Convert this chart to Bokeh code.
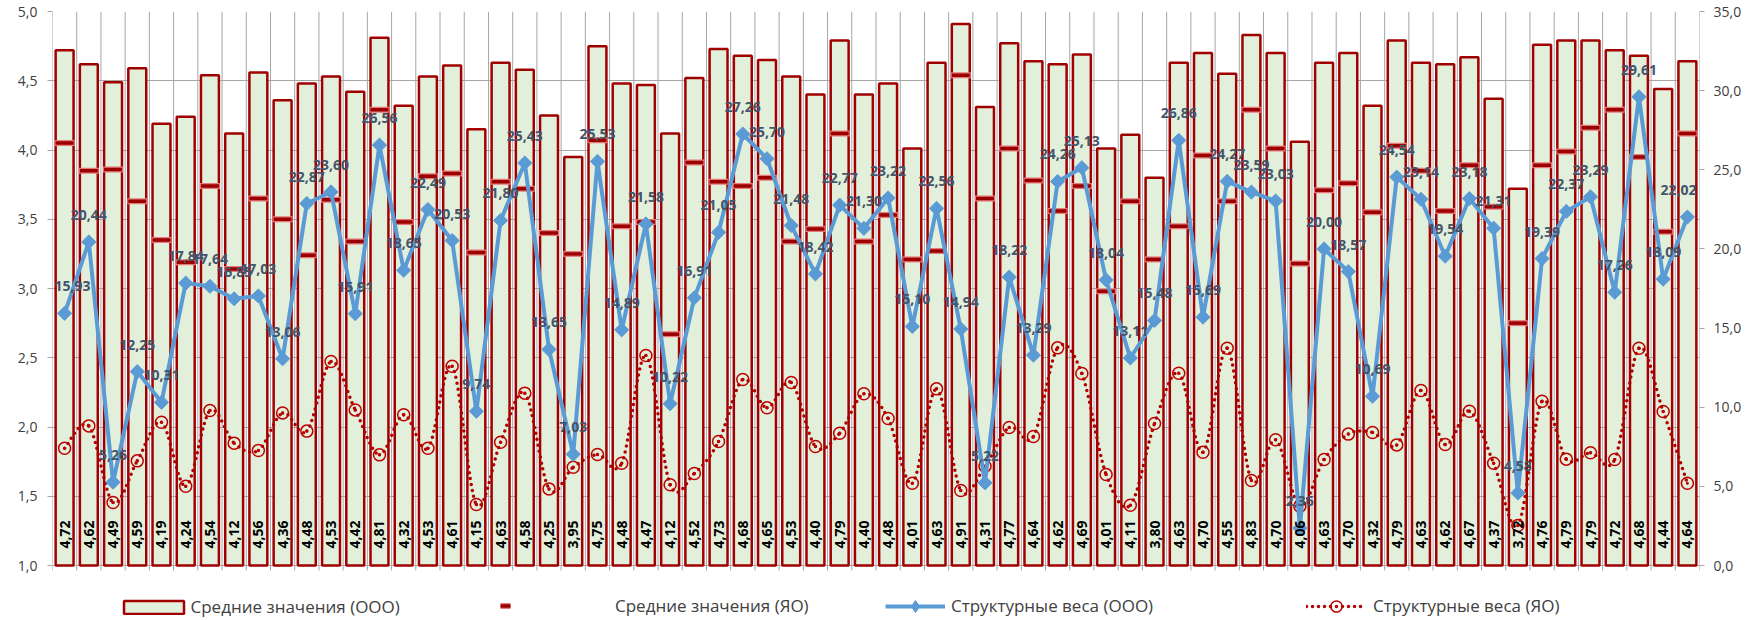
import math
from bokeh.plotting import figure
from bokeh.models import (Range1d, LinearAxis, FixedTicker, CustomJSTickFormatter,
                          Legend, LegendItem, ColumnDataSource, LabelSet)
from bokeh.core.properties import value
from bokeh.embed import file_html
from bokeh.resources import INLINE

# ---------------- data ----------------
nums = list(range(1, 69))

mean_ooo = [4.72, 4.62, 4.49, 4.59, 4.19, 4.24, 4.54, 4.12, 4.56, 4.36,
            4.48, 4.53, 4.42, 4.81, 4.32, 4.53, 4.61, 4.15, 4.63, 4.58,
            4.25, 3.95, 4.75, 4.48, 4.47, 4.12, 4.52, 4.73, 4.68, 4.65,
            4.53, 4.40, 4.79, 4.40, 4.48, 4.01, 4.63, 4.91, 4.31, 4.77,
            4.64, 4.62, 4.69, 4.01, 4.11, 3.80, 4.63, 4.70, 4.55, 4.83,
            4.70, 4.06, 4.63, 4.70, 4.32, 4.79, 4.63, 4.62, 4.67, 4.37,
            3.72, 4.76, 4.79, 4.79, 4.72, 4.68, 4.44, 4.64]

mean_yao = [4.05, 3.85, 3.86, 3.63, 3.35, 3.19, 3.74, 3.14, 3.65, 3.50,
            3.24, 3.64, 3.34, 4.29, 3.48, 3.81, 3.83, 3.26, 3.77, 3.72,
            3.40, 3.25, 4.07, 3.45, 3.48, 2.67, 3.91, 3.77, 3.74, 3.80,
            3.34, 3.43, 4.12, 3.34, 3.53, 3.21, 3.27, 4.54, 3.65, 4.01,
            3.78, 3.56, 3.74, 2.98, 3.63, 3.21, 3.45, 3.96, 3.63, 4.29,
            4.01, 3.18, 3.71, 3.76, 3.55, 4.03, 3.85, 3.56, 3.89, 3.59,
            2.75, 3.89, 3.99, 4.16, 4.29, 3.95, 3.41, 4.12]

w_ooo = [15.93, 20.44, 5.26, 12.25, 10.31, 17.84, 17.64, 16.85, 17.03, 13.06,
         22.87, 23.60, 15.91, 26.56, 18.65, 22.49, 20.53, 9.74, 21.80, 25.43,
         13.65, 7.03, 25.53, 14.89, 21.58, 10.22, 16.91, 21.05, 27.26, 25.70,
         21.48, 18.42, 22.77, 21.30, 23.22, 15.10, 22.56, 14.94, 5.22, 18.22,
         13.29, 24.26, 25.13, 18.04, 13.11, 15.48, 26.86, 15.69, 24.27, 23.59,
         23.03, 2.36, 20.00, 18.57, 10.69, 24.54, 23.14, 19.54, 23.18, 21.31,
         4.58, 19.39, 22.37, 23.29, 17.26, 29.61, 18.09, 22.02]

w_yao = [7.41, 8.82, 3.98, 6.61, 9.05, 5.01, 9.79, 7.73, 7.27, 9.64,
         8.49, 12.89, 9.83, 6.99, 9.52, 7.41, 12.59, 3.85, 7.79, 10.89,
         4.84, 6.21, 7.01, 6.46, 13.27, 5.10, 5.81, 7.83, 11.75, 9.96,
         11.56, 7.52, 8.36, 10.85, 9.29, 5.20, 11.16, 4.74, 6.27, 8.72,
         8.15, 13.75, 12.13, 5.75, 3.81, 8.97, 12.15, 7.16, 13.73, 5.37,
         7.94, 3.75, 6.70, 8.30, 8.40, 7.62, 11.06, 7.64, 9.75, 6.46,
         2.53, 10.38, 6.72, 7.12, 6.70, 13.73, 9.73, 5.20]

left_ticks = [1.0, 1.5, 2.0, 2.5, 3.0, 3.5, 4.0, 4.5, 5.0]
right_ticks = [0, 5, 10, 15, 20, 25, 30, 35]

series_names = ["Средние значения (ООО)", "Средние значения (ЯО)",
                "Структурные веса (ООО)", "Структурные веса (ЯО)"]

def comma(v):
    return f"{v:.2f}".replace(".", ",")

# ---------------- layout constants (pixels) ----------------
FONT = "Open Sans"
GRID = "#A6A6A6"
W, H = 1749, 620
B_LEFT, B_RIGHT, B_TOP = 52, 50, 11
AXIS_PX = 554            # height of the 1,0 .. 5,0 band
FRAME_H = H - B_TOP      # frame reaches canvas bottom (legend lives there)
EXTRA_PX = FRAME_H - AXIS_PX

l0, l1 = left_ticks[0], left_ticks[-1]
r0, r1 = right_ticks[0], right_ticks[-1]
l_bottom = l0 - (l1 - l0) * EXTRA_PX / AXIS_PX
r_bottom = r0 - (r1 - r0) * EXTRA_PX / AXIS_PX
tick_len = 5 * (l1 - l0) / AXIS_PX

# ---------------- figure ----------------
p = figure(width=W, height=H, output_backend="svg", toolbar_location=None,
           x_range=Range1d(0.5, 68.5), y_range=Range1d(l_bottom, l1),
           x_axis_location=None,
           min_border_left=B_LEFT, min_border_right=B_RIGHT,
           min_border_top=B_TOP, min_border_bottom=0)
p.extra_y_ranges = {"w": Range1d(r_bottom, r1)}
p.outline_line_color = None
p.background_fill_color = "white"
p.border_fill_color = "white"
p.xgrid.visible = False

fmt = CustomJSTickFormatter(code="return tick.toFixed(1).replace('.', ',');")

# left axis
ya = p.yaxis[0]
ya.ticker = FixedTicker(ticks=left_ticks)
ya.formatter = fmt
ya.major_label_text_font = FONT
ya.major_label_text_font_size = "14px"
ya.major_label_text_color = "#404040"
ya.major_tick_out = 5
ya.major_tick_in = 0
ya.major_label_standoff = 10
ya.minor_tick_line_color = None
ya.axis_line_color = None
ya.major_tick_line_color = GRID
p.ygrid.ticker = FixedTicker(ticks=left_ticks)
p.ygrid.grid_line_color = GRID

# right axis
ra = LinearAxis(y_range_name="w", ticker=FixedTicker(ticks=right_ticks), formatter=fmt)
ra.major_label_text_font = FONT
ra.major_label_text_font_size = "14px"
ra.major_label_text_color = "#404040"
ra.major_tick_out = 5
ra.major_tick_in = 0
ra.major_label_standoff = 9
ra.minor_tick_line_color = None
ra.axis_line_color = None
ra.major_tick_line_color = GRID
p.add_layout(ra, "right")

# category boundaries: vertical grid lines + bottom ticks + side axis lines
bounds = [n - 0.5 for n in nums] + [nums[-1] + 0.5]
p.segment(x0=bounds, y0=[l0 - tick_len] * len(bounds), x1=bounds, y1=[l1] * len(bounds),
          line_color=GRID, line_width=1)

# ---------------- glyphs ----------------
lab_dx = [0] * len(nums)
lab_dx[0] = 8      # keep first / last value labels inside the plot frame
lab_dx[-1] = -9

src = ColumnDataSource(dict(
    x=nums, ooo=mean_ooo, yao=mean_yao, wo=w_ooo, wy=w_yao,
    base=[l0] * len(nums),
    lab_ooo=[comma(v) for v in mean_ooo],
    lab_w=[comma(v) for v in w_ooo],
    dx=lab_dx,
))

bars = p.vbar(x="x", top="ooo", bottom="base", width=0.74, source=src,
              fill_color="#E2EFDA", line_color="#A00000", line_width=2.5)

d1 = p.scatter(x="x", y="yao", source=src, marker="dash", size=20,
               line_color="#E87878", line_width=6)
d2 = p.scatter(x="x", y="yao", source=src, marker="dash", size=18,
               line_color="#9A0000", line_width=3.5)

# smoothed dotted line (Bezier segments through the data points)
n = len(nums)
bx0, by0, bx1, by1, cx0, cy0, cx1, cy1 = [], [], [], [], [], [], [], []
for i in range(n - 1):
    i0 = max(i - 1, 0)
    i3 = min(i + 2, n - 1)
    bx0.append(nums[i]); by0.append(w_yao[i])
    bx1.append(nums[i + 1]); by1.append(w_yao[i + 1])
    cx0.append(nums[i] + (nums[i + 1] - nums[i0]) / 6.0)
    cy0.append(w_yao[i] + (w_yao[i + 1] - w_yao[i0]) / 6.0)
    cx1.append(nums[i + 1] - (nums[i3] - nums[i]) / 6.0)
    cy1.append(w_yao[i + 1] - (w_yao[i3] - w_yao[i]) / 6.0)
p.bezier(x0=bx0, y0=by0, x1=bx1, y1=by1, cx0=cx0, cy0=cy0, cx1=cx1, cy1=cy1,
         y_range_name="w", line_color="#B00000", line_width=3.5,
         line_dash="0 6", line_cap="round")
# legend proxy for the dotted line (hidden in the plot)
dot_proxy = p.line(x="x", y="wy", source=src, y_range_name="w", line_color="#B00000",
                   line_width=3.5, line_dash="0 6", line_cap="round", visible=False)
circ = p.scatter(x="x", y="wy", source=src, y_range_name="w", marker="circle_dot",
                 size=12, line_color="#C00000", fill_alpha=0, line_width=1.5)

bl = p.line(x="x", y="wo", source=src, y_range_name="w",
            line_color="#5B9BD5", line_width=4)
dm = p.scatter(x="x", y="wo", source=src, y_range_name="w", marker="square",
               angle=math.pi / 4, size=10, fill_color="#5B9BD5", line_color="#5B9BD5")
# legend proxy diamond (hidden in the plot)
dm_proxy = p.scatter(x="x", y="wo", source=src, y_range_name="w", marker="diamond",
                     size=12, fill_color="#5B9BD5", line_color="#5B9BD5", visible=False)

p.text(x="x", y="base", text="lab_ooo", source=src, angle=math.pi / 2,
       text_align="left", text_baseline="middle", y_offset=-17,
       text_font=value(FONT), text_font_style="bold", text_font_size="14px",
       text_color="#000000")

labels_w = LabelSet(x="x", y="wo", text="lab_w", source=src, y_range_name="w",
                    text_align="center", text_baseline="middle", y_offset=27,
                    x_offset="dx",
                    text_font=value(FONT), text_font_style="bold",
                    text_font_size="14px", text_color="#44546A")
p.add_layout(labels_w)

# ---------------- legends ----------------
def add_legend(label, renderers, vx, vy, gw, gh, standoff):
    lg = Legend(items=[LegendItem(label=label, renderers=renderers)],
                location=(vx, vy), orientation="horizontal",
                glyph_width=gw, glyph_height=gh, label_height=gh,
                label_standoff=standoff, padding=0, margin=0, spacing=0,
                border_line_alpha=0, background_fill_alpha=0,
                inactive_fill_alpha=0,
                label_text_font=FONT, label_text_font_size="17px",
                label_text_color="#404040")
    p.add_layout(lg)

add_legend(series_names[0], [bars], 63.5, 2, 75, 16, 0)
add_legend(series_names[1], [d1, d2], 423, 2, 60, 25, 80)
add_legend(series_names[2], [bl, dm_proxy], 833, -0.5, 60, 30, 6)
add_legend(series_names[3], [dot_proxy, circ], 1254, 0.5, 60, 28, 7)

open("out.html", "w").write(file_html(p, INLINE))
